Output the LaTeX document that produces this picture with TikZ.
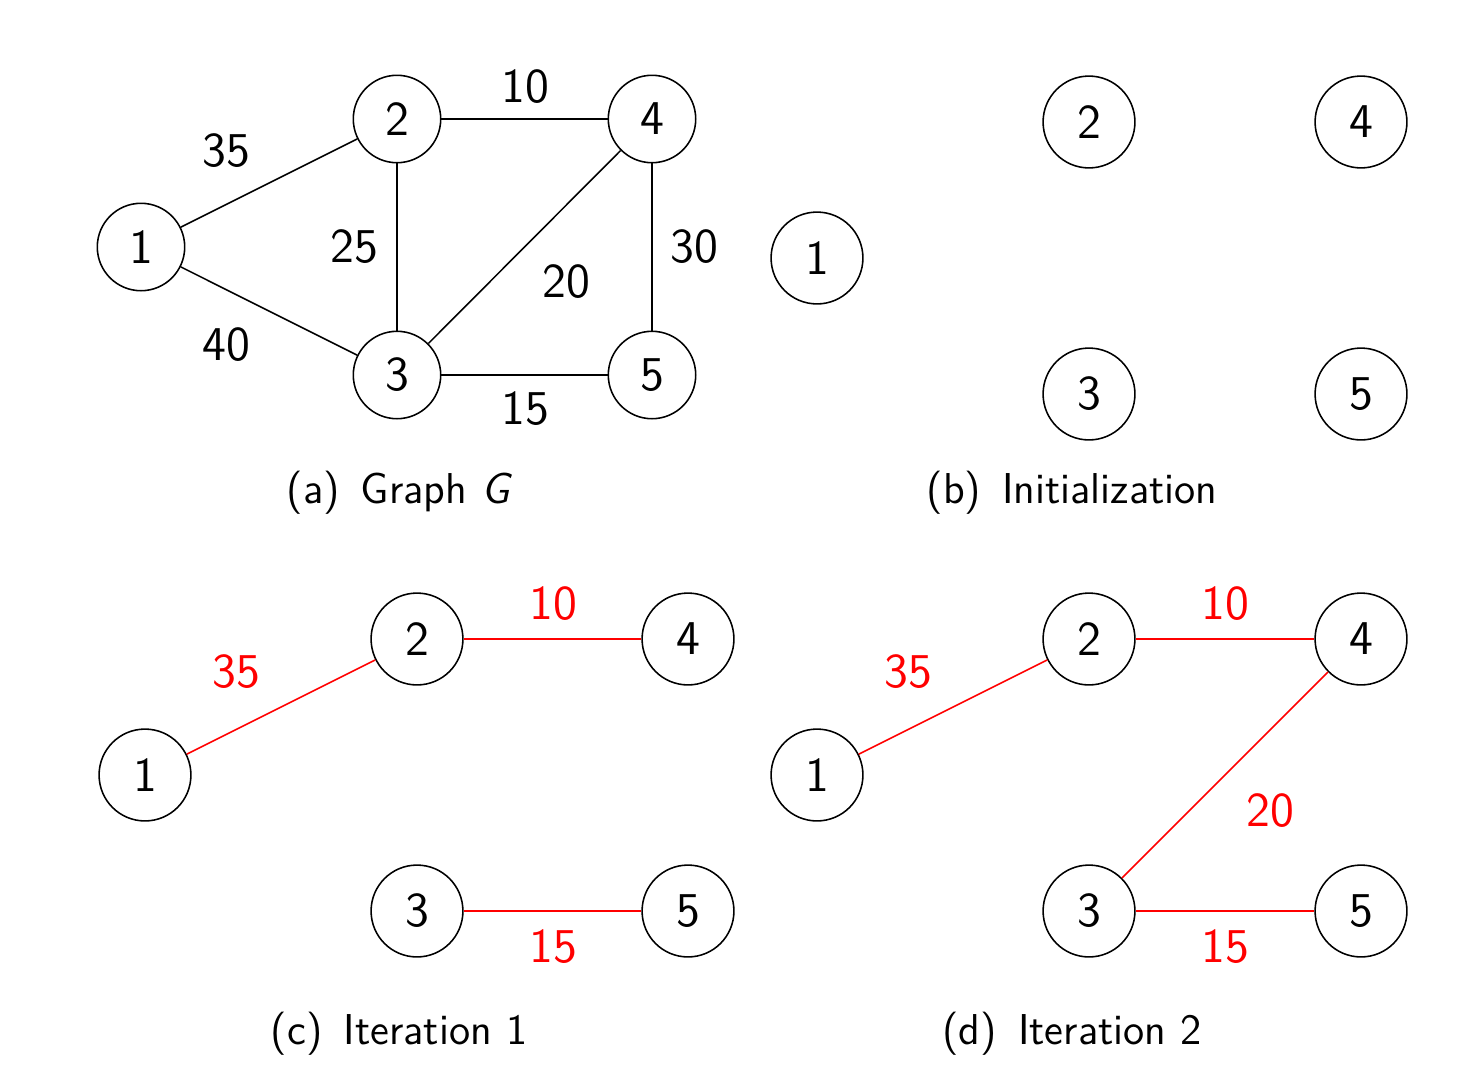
\documentclass[tikz,border=0pt]{standalone}
\usetikzlibrary{positioning}

\tikzset{
    vrchol/.style={circle, draw, minimum size=0.83cm, inner sep=0pt, font=\sffamily\fontsize{12.5}{15}\selectfont},
    vaha/.style={font=\sffamily\fontsize{12.5}{15}\selectfont},
    popis/.style={font=\sffamily\fontsize{11.1}{13}\selectfont},
    kostra/.style={red},
}

\begin{document}
\begin{tikzpicture}[x=0.9036cm, y=0.9036cm]
        \useasboundingbox (0,0) rectangle (14.83,10.78);

        % (a) graf G
        \node[vrchol, minimum size=0.79cm] (a1) at (1.41,8.31) {1};
        \node[vrchol, minimum size=0.79cm] (a2) at (3.97,9.59) {2};
        \node[vrchol, minimum size=0.79cm] (a4) at (6.52,9.59) {4};
        \node[vrchol, minimum size=0.79cm] (a3) at (3.97,7.03) {3};
        \node[vrchol, minimum size=0.79cm] (a5) at (6.52,7.03) {5};

        \draw (a1) -- (a2);
        \draw (a1) -- (a3);
        \draw (a2) -- (a4);
        \draw (a2) -- (a3);
        \draw (a3) -- (a4);
        \draw (a4) -- (a5);
        \draw (a3) -- (a5);

        \node[vaha] (w12) at (2.26,9.27) {35};
        \node[vaha] (w24) at (5.25,9.91) {10};
        \node[vaha] (w23) at (3.54,8.31) {25};
        \node[vaha] (w34) at (5.66,7.96) {20};
        \node[vaha] (w45) at (6.94,8.31) {30};
        \node[vaha] (w13) at (2.26,7.33) {40};
        \node[vaha] (w35) at (5.25,6.69) {15};

        \node[popis] (capa) at (3.98,5.85) {(a)\, Graph {\itshape G}};

        % (b) inicializace
        \node[vrchol] (b1) at (8.17,8.20) {1};
        \node[vrchol] (b2) at (10.89,9.56) {2};
        \node[vrchol] (b4) at (13.61,9.56) {4};
        \node[vrchol] (b3) at (10.89,6.84) {3};
        \node[vrchol] (b5) at (13.61,6.84) {5};

        \node[popis] (capb) at (10.72,5.85) {(b)\, Initialization};

        % (c) iterace 1
        \node[vrchol] (c1) at (1.45,3.03) {1};
        \node[vrchol] (c2) at (4.17,4.39) {2};
        \node[vrchol] (c4) at (6.88,4.39) {4};
        \node[vrchol] (c3) at (4.17,1.67) {3};
        \node[vrchol] (c5) at (6.88,1.67) {5};

        \draw[kostra] (c1) -- (c2);
        \draw[kostra] (c2) -- (c4);
        \draw[kostra] (c3) -- (c5);

        \node[vaha, red] (v12) at (2.36,4.06) {35};
        \node[vaha, red] (v24) at (5.53,4.74) {10};
        \node[vaha, red] (v35) at (5.53,1.31) {15};

        \node[popis] (capc) at (3.99,0.44) {(c)\, Iteration 1};

        % (d) iterace 2
        \node[vrchol] (d1) at (8.17,3.03) {1};
        \node[vrchol] (d2) at (10.89,4.39) {2};
        \node[vrchol] (d4) at (13.61,4.39) {4};
        \node[vrchol] (d3) at (10.89,1.67) {3};
        \node[vrchol] (d5) at (13.61,1.67) {5};

        \draw[kostra] (d1) -- (d2);
        \draw[kostra] (d2) -- (d4);
        \draw[kostra] (d3) -- (d4);
        \draw[kostra] (d3) -- (d5);

        \node[vaha, red] (u12) at (9.08,4.06) {35};
        \node[vaha, red] (u24) at (12.25,4.74) {10};
        \node[vaha, red] (u34) at (12.70,2.67) {20};
        \node[vaha, red] (u35) at (12.25,1.31) {15};

        \node[popis] (capd) at (10.72,0.44) {(d)\, Iteration 2};

    \end{tikzpicture}
\end{document}
